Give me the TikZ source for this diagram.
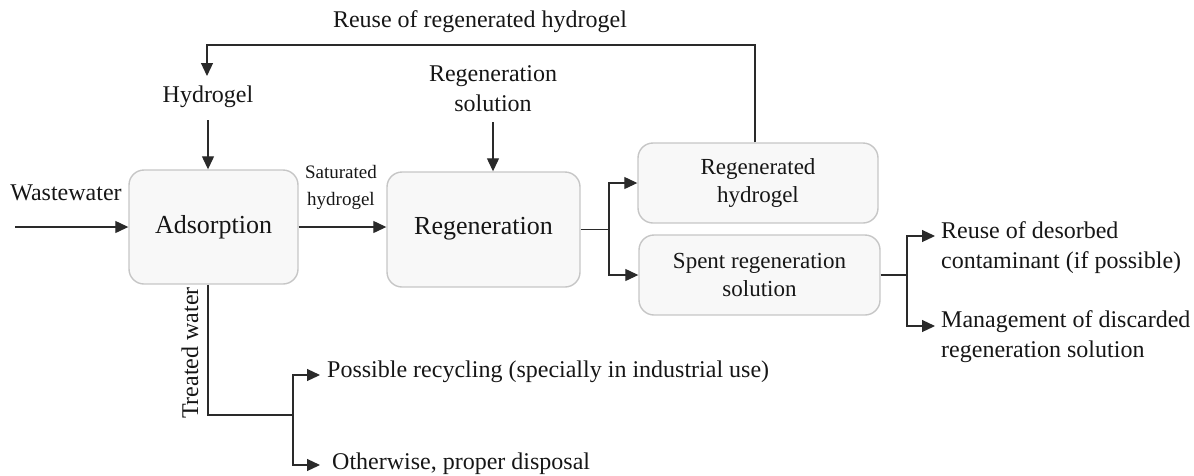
\documentclass[tikz,border=0pt]{standalone}
\usepackage{fontspec}
\setmainfont{Liberation Serif}
\usetikzlibrary{arrows.meta,calc}
\definecolor{boxfill}{HTML}{F8F8F8}
\definecolor{boxline}{HTML}{C6C6C6}
\definecolor{linec}{HTML}{2A2A2A}
\definecolor{txt}{HTML}{161616}
\begin{document}
\begin{tikzpicture}[x=1pt,y=-1pt,
  procbox/.style={draw=boxline,fill=boxfill,line width=1.4pt,rounded corners=15pt,
    align=center,inner sep=0pt,text=txt},
  lbl/.style={align=center,inner sep=0pt,text=txt,font=\fontsize{24}{30}\selectfont},
  lbll/.style={align=left,inner sep=0pt,text=txt,font=\fontsize{24}{30}\selectfont},
  conn/.style={draw=linec,line width=1.2pt},
  arr/.style={conn,-{Triangle[length=13pt,width=12pt]}}]
\useasboundingbox (0,0) rectangle (1194,475);
% boxes
\node[procbox,minimum width=169pt,minimum height=114pt,font=\fontsize{26}{30}\selectfont] (ads) at (213.5,227) {\raisebox{5pt}{Adsorption}};
\node[procbox,minimum width=193pt,minimum height=115pt,font=\fontsize{26}{30}\selectfont] (reg) at (483.5,229.5) {\raisebox{7pt}{Regeneration}};
\node[procbox,minimum width=240pt,minimum height=80pt,font=\fontsize{23}{28}\selectfont] (rh) at (758,183) {Regenerated\\hydrogel};
\node[procbox,minimum width=241pt,minimum height=80pt,font=\fontsize{23}{28}\selectfont] (sp) at (759.5,275) {Spent regeneration\\solution};
% labels
\node[lbl] (reuse) at (480,22) {Reuse of regenerated hydrogel};
\node[lbl] (hyd) at (208,97) {Hydrogel};
\node[lbl] (rsol) at (493,89) {Regeneration\\solution};
\node[lbl] (ww) at (66,193) {Wastewater};
\node[align=center,inner sep=0pt,text=txt,font=\fontsize{19}{27}\selectfont] (sat) at (341,187.5) {Saturated\\hydrogel};
\node[lbl,rotate=90] (tw) at (190,353) {Treated water};
\node[lbll,anchor=west] (o1) at (941,248) {Reuse of desorbed\\contaminant (if possible)};
\node[lbll,anchor=west] (o2) at (941,337) {Management of discarded\\regeneration solution};
\node[lbll,anchor=west] (p1) at (327,372) {Possible recycling (specially in industrial use)};
\node[lbll,anchor=west] (p2) at (332,464) {Otherwise, proper disposal};
% coordinates
\coordinate (loopR) at (755,45);
\coordinate (loopL) at (207,45);
\coordinate (hydtop) at (207,76);
\coordinate (hydbot) at (208,120);
\coordinate (rsolbot) at (493,122);
\coordinate (wwin) at (15,227);
\coordinate (s1) at (609,229.5);
\coordinate (s2) at (907,275);
\coordinate (t1) at (935,236);
\coordinate (t2) at (935,326);
\coordinate (twc) at (208,415);
\coordinate (b2) at (293,415);
\coordinate (q1) at (320,375);
\coordinate (q2) at (320,465);
% connectors
\draw[arr] (rh.north -| loopR) -- (loopR) -- (loopL) -- (hydtop);
\draw[arr] (hydbot) -- (hyd.south |- ads.north);
\draw[arr] (rsolbot) -- (rsol.south |- reg.north);
\draw[arr] (wwin) -- (ads.west);
\draw[arr] (ads.east) -- (reg.west |- ads.east);
\draw[conn] (reg.east) -- (s1);
\draw[arr] (s1) |- (rh.west);
\draw[arr] (s1) |- (sp.west);
\draw[conn] (sp.east) -- (s2);
\draw[arr] (s2) |- (t1);
\draw[arr] (s2) |- (t2);
\draw[conn] (ads.south -| twc) -- (twc) -- (b2);
\draw[arr] (b2) |- (q1);
\draw[arr] (b2) |- (q2);
\end{tikzpicture}
\end{document}
